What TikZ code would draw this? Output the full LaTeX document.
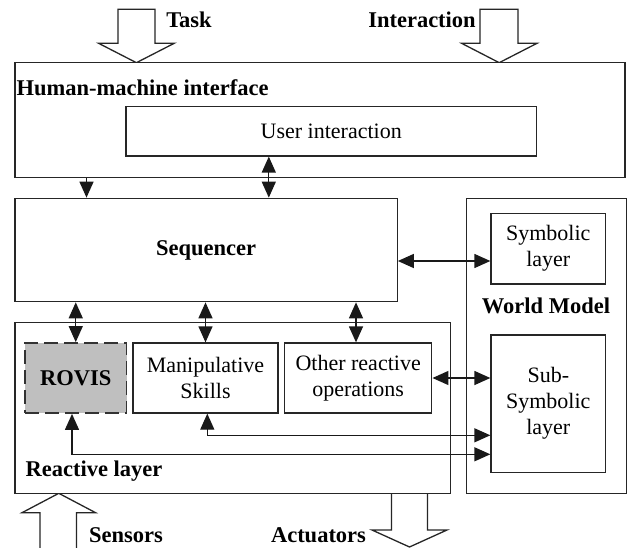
\documentclass[tikz,border=0pt]{standalone}
\usepackage{fontspec}
\setmainfont{Liberation Serif}
\usetikzlibrary{arrows.meta,calc}
\begin{document}
\begin{tikzpicture}[x=1pt,y=-1pt,
  line width=1.3pt,
  every node/.style={font=\fontsize{22}{26}\selectfont},
  box/.style={draw=black!85,fill=white,inner sep=0pt,align=center},
  rovisbox/.style={draw=black!80,fill=black!25,dash pattern=on 14pt off 6pt,line width=1.8pt,inner sep=0pt,align=center},
  blockarrow/.style={draw=black!85,fill=white,line width=1.3pt,line join=miter},
  lbl/.style={font=\fontsize{22.5}{26}\selectfont\bfseries,inner sep=0pt},
  tip/.tip={Triangle[length=16pt,width=14pt]},
  conn/.style={draw=black!90,line width=1.3pt,-tip},
  dconn/.style={draw=black!90,line width=1.3pt,tip-tip}
]
\useasboundingbox (0,0) rectangle (631,548);

% block arrows
\draw[blockarrow] (117.9,9.3) -- (117.9,43.3) -- (98.6,43.3) -- (136.4,62.7) -- (174.2,43.3) -- (154.9,43.3) -- (154.9,9.3) -- cycle;
\draw[blockarrow] (480,9.3) -- (480,43.3) -- (461.6,43.3) -- (499.2,62.7) -- (537,43.3) -- (518,43.3) -- (518,9.3) -- cycle;
\draw[blockarrow] (40,550) -- (40,512.7) -- (22,512.7) -- (58.8,493.3) -- (95.6,512.7) -- (76.5,512.7) -- (76.5,550) -- cycle;
\draw[blockarrow] (391.5,493.3) -- (391.5,530) -- (372,530) -- (409.5,547) -- (447,530) -- (427.4,530) -- (427.4,493.3) -- cycle;

\node[lbl] (task) at (189,20) {Task};
\node[lbl] (inter) at (422,20) {Interaction};
\node[lbl] (sens) at (126,535) {Sensors};
\node[lbl] (act) at (318.5,535) {Actuators};

% boxes
\node[box,minimum width=610pt,minimum height=114.6pt] (hmi) at (320,120) {};
\node[lbl,anchor=west] (hmil) at (16,88) {Human-machine interface};
\node[box,minimum width=410.4pt,minimum height=49.3pt] (user) at (331.2,131.3) {User interaction};

\node[box,minimum width=382.2pt,minimum height=103.4pt,font=\fontsize{22.5}{26}\selectfont\bfseries] (seq) at (206.1,250) {Sequencer};

\node[box,minimum width=159.8pt,minimum height=295pt] (wm) at (546.7,345.8) {};
\node[lbl] (wml) at (546,305.7) {World Model};
\node[box,minimum width=114.6pt,minimum height=70.7pt] (sym) at (548.3,248.7) {Symbolic\\layer};
\node[box,minimum width=114.6pt,minimum height=137.3pt] (sub) at (548.3,403.7) {Sub-\\Symbolic\\layer};

\node[box,minimum width=435.7pt,minimum height=170.6pt] (react) at (232.8,408) {};
\node[lbl,anchor=west] (reactl) at (25,471) {Reactive layer};
\node[rovisbox,minimum width=101.5pt,minimum height=70pt,font=\fontsize{22.5}{26}\selectfont\bfseries] (rovis) at (75.75,378) {ROVIS};
\node[box,minimum width=145pt,minimum height=70pt] (manip) at (205.5,378) {Manipulative\\Skills};
\node[box,minimum width=147.3pt,minimum height=70pt] (other) at (358.15,378) {Other reactive\\operations};

% connectors
\draw[conn] (hmi.south -| 86.5,0) -- (seq.north -| 86.5,0);
\draw[dconn] (user.south -| 268.8,0) -- (seq.north -| 268.8,0);
\draw[dconn] (seq.east |- 0,261) -- (sym.west |- 0,261);
\draw[dconn] (seq.south -| rovis.north) -- (rovis.north);
\draw[dconn] (seq.south -| manip.north) -- (manip.north);
\draw[dconn] (seq.south -| 356,0) -- (other.north -| 356,0);
\draw[dconn] (other.east |- 0,378) -- (sub.west |- 0,378);
\draw[dconn] (manip.south -| 207.3,0) -- (207.3,435.3) -- (sub.west |- 0,435.3);
\draw[dconn] (rovis.south -| 72,0) -- (72,454.3) -- (sub.west |- 0,454.3);
\end{tikzpicture}
\end{document}
